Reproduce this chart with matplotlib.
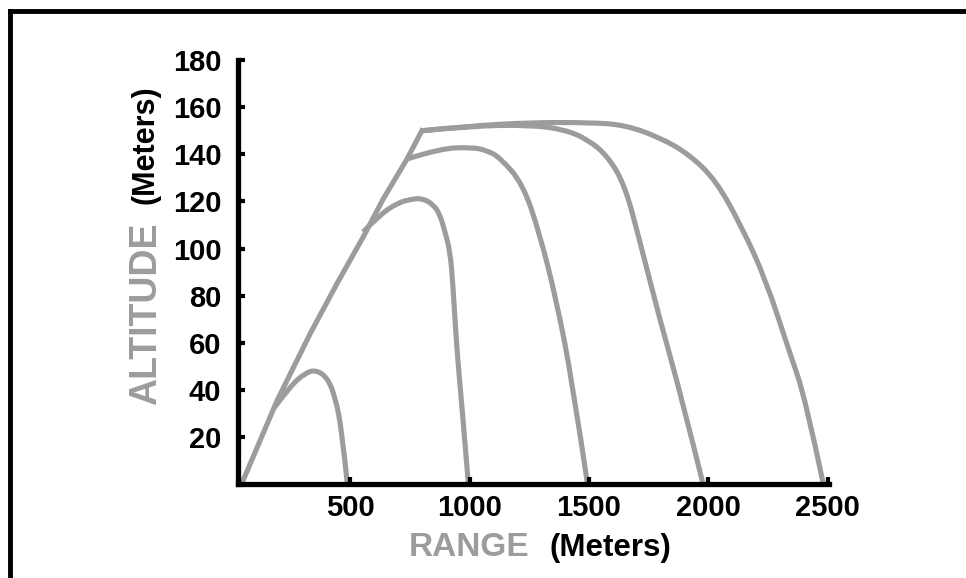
import matplotlib
matplotlib.use("Agg")
import matplotlib.pyplot as plt
from matplotlib.lines import Line2D
from matplotlib.path import Path
from matplotlib.patches import PathPatch

# climbing envelope shared by all trajectories (range m, altitude m)
env_x = [45, 194, 333, 444, 555, 638, 738, 800]
env_y = [0, 35.5, 64, 85, 105, 121, 138, 150]

# descending branches, one per maximum range
r500_x = [179, 250, 310, 354, 403, 437, 465, 488]
r500_y = [32, 41.7, 47, 48.5, 45.4, 37, 22.8, 0]

r1000_x = [554, 620, 700, 760, 800, 845, 876, 897, 918, 930, 938, 951, 966, 995]
r1000_y = [107, 114, 119.5, 121, 121.3, 119, 114.5, 107, 99, 85, 71, 52, 35.5, 0]

r1500_x = [738, 876, 1014, 1075, 1126, 1222, 1293, 1364, 1431, 1494]
r1500_y = [138, 142.5, 143, 141.5, 138.7, 127.7, 106.5, 78, 43, 0]

r2000_x = [800, 1000, 1250, 1400, 1500, 1580, 1650, 1711, 1794, 1890, 1978]
r2000_y = [150, 152, 152.5, 150.5, 146, 139, 127, 104, 71, 36, 0]

r2500_x = [800, 1000, 1250, 1500, 1650, 1800, 1919, 2032, 2141, 2241, 2337, 2408, 2482]
r2500_y = [150, 152, 153.5, 153.5, 152.5, 147, 140, 129, 109, 86.7, 57, 36, 0]

xticks = [500, 1000, 1500, 2000, 2500]
yticks = [20, 40, 60, 80, 100, 120, 140, 160, 180]

grey = "#9c9c9c"
fam = ["Liberation Sans", "DejaVu Sans"]


def smooth(xs, ys):
    # quadratic bezier: read points are control points, midpoints lie on the curve
    pts = list(zip(xs, ys))
    verts = [pts[0]]
    codes = [Path.MOVETO]
    for i in range(1, len(pts) - 2):
        mid = ((pts[i][0] + pts[i + 1][0]) / 2, (pts[i][1] + pts[i + 1][1]) / 2)
        verts += [pts[i], mid]
        codes += [Path.CURVE3, Path.CURVE3]
    if len(pts) > 2:
        verts += [pts[-2], pts[-1]]
        codes += [Path.CURVE3, Path.CURVE3]
    else:
        verts.append(pts[-1])
        codes.append(Path.LINETO)
    return Path(verts, codes)


fig = plt.figure(figsize=(9.66, 5.78), dpi=100)
ax = fig.add_axes([0.2464, 0.1626, 0.858 - 0.2464, 0.896 - 0.1626])

# envelope drawn straight-ish with its sharp top corner
ax.plot(env_x, env_y, color=grey, lw=3.7, solid_joinstyle="round", clip_on=False)
for xs, ys in [(r500_x, r500_y), (r1000_x, r1000_y), (r1500_x, r1500_y),
               (r2000_x, r2000_y), (r2500_x, r2500_y)]:
    ax.add_patch(PathPatch(smooth(xs, ys), fill=False, edgecolor=grey, lw=3.7,
                           capstyle="butt", joinstyle="round", clip_on=False))

ax.set_xlim(30, 2505)
ax.set_ylim(0, 180)
ax.set_xticks(xticks)
ax.set_yticks(yticks)
ax.set_xticklabels([str(v) for v in xticks], family=fam, weight="bold", fontsize=21)
ax.set_yticklabels([str(v) for v in yticks], family=fam, weight="bold", fontsize=21)
ax.tick_params(direction="in", length=5, width=3, color="black")
ax.tick_params(axis="y", pad=12)
ax.tick_params(axis="x", pad=7)

for s in ["top", "right"]:
    ax.spines[s].set_visible(False)
for s in ["left", "bottom"]:
    ax.spines[s].set_linewidth(3.8)
    ax.spines[s].set_capstyle("projecting")

# axis titles: grey word + black units
fig.text(146 / 966, 1 - 314 / 578, "ALTITUDE", rotation=90, color=grey,
         family=fam, weight="bold", fontsize=27, ha="center", va="center")
fig.text(146 / 966, 1 - 145 / 578, "(Meters)", rotation=90, color="black",
         family=fam, weight="bold", fontsize=22, ha="center", va="center")
fig.text(469 / 966, 1 - 547 / 578, "RANGE", color=grey,
         family=fam, weight="bold", fontsize=24, ha="center", va="center")
fig.text(610 / 966, 1 - 548 / 578, "(Meters)", color="black",
         family=fam, weight="bold", fontsize=22.5, ha="center", va="center")

# frame lines on top and left edge of the picture
fig.add_artist(Line2D([10 / 966, 10 / 966], [0, 1 - 11 / 578], color="black", lw=3.5,
                      transform=fig.transFigure, solid_capstyle="projecting"))
fig.add_artist(Line2D([10 / 966, 1.01], [1 - 11 / 578, 1 - 11 / 578], color="black", lw=3.5,
                      transform=fig.transFigure, solid_capstyle="projecting"))

fig.savefig("out.png", dpi=100)
